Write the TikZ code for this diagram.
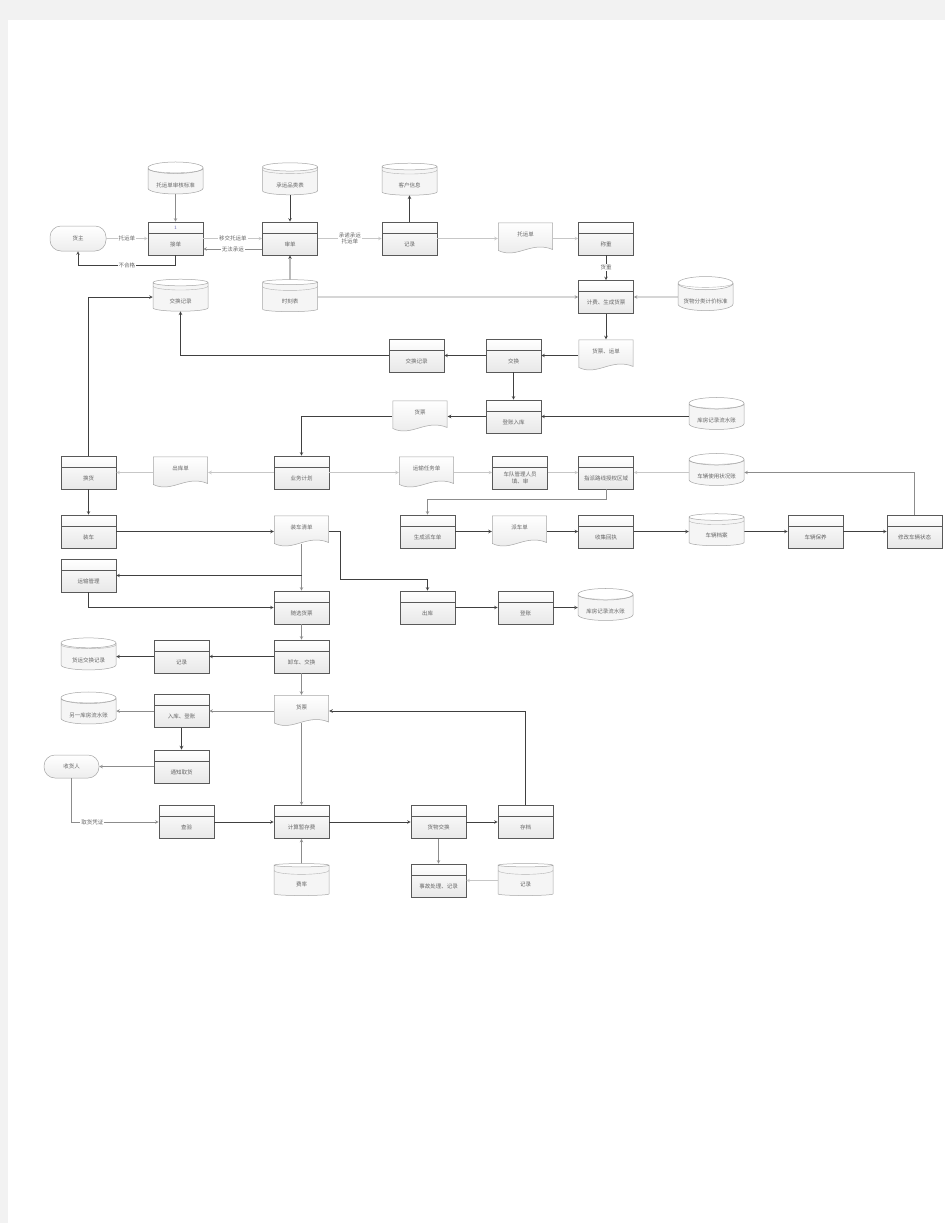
\documentclass[tikz,border=0pt]{standalone}
\usepackage{fontspec}
\newfontfamily\cjk{Noto Sans CJK SC}
\usetikzlibrary{shapes.geometric, arrows, positioning}
\tikzstyle{process} = [rectangle, minimum width=55pt, minimum height=33pt, inner sep=0pt, draw=black!65, line width=0.6pt, top color=white, bottom color=black!9, text height=16.4pt, text depth=1pt, path picture={\draw[black!65, line width=0.6pt] ([yshift=-11pt]path picture bounding box.north west) -- ([yshift=-11pt]path picture bounding box.north east);}]
\tikzstyle{docu} = [rectangle, minimum width=55pt, minimum height=32pt, inner sep=0pt, text height=5pt, text depth=8.6pt, path picture={\shade[top color=white, bottom color=black!9, draw=black!35, line width=0.5pt] ([shift={(0.3pt,-0.3pt)}]path picture bounding box.north west) -- ([shift={(-0.3pt,-0.3pt)}]path picture bounding box.north east) -- ([shift={(-0.3pt,5pt)}]path picture bounding box.south east) .. controls ([shift={(-22pt,14pt)}]path picture bounding box.south east) and ([shift={(19pt,-5pt)}]path picture bounding box.south west) .. ([shift={(0.3pt,4pt)}]path picture bounding box.south west) -- cycle;}]
\tikzstyle{store} = [cylinder, shape border rotate=90, shape aspect=0.3, minimum width=55pt, minimum height=32pt, inner sep=0pt, draw=black!35, line width=0.5pt, cylinder uses custom fill, cylinder body fill=black!4, cylinder end fill=white, text height=13pt, text depth=1pt, path picture={\draw[black!30, line width=0.4pt] ([yshift=-6.8pt]path picture bounding box.north west) arc[start angle=180, end angle=360, x radius=27.5pt, y radius=4pt];}]
\tikzstyle{terminal} = [rectangle, rounded corners=11pt, minimum width=56pt, minimum height=25pt, draw=black!35, line width=0.5pt, top color=white, bottom color=black!7]
\tikzstyle{arrow} = [->, >=stealth, draw=black!75, line width=0.6pt]
\tikzstyle{midarrow} = [->, >=stealth, draw=black!45, line width=0.6pt]
\tikzstyle{lightarrow} = [->, >=stealth, draw=black!22, line width=0.6pt]
\tikzstyle{lbl} = [fill=white, inner sep=1pt]
\begin{document}
\begin{tikzpicture}[x=1pt, y=-1pt, every node/.style={font=\cjk\fontsize{5.5}{6.6}\selectfont, text=black!60}]

\fill[black!5] (0,0) rectangle (945,1223);
\fill[white] (8,20) rectangle (945,1223);
\useasboundingbox (0,0) rectangle (945,1223);

% top rows
\node (shenhebz) [store] at (175.5,181) {托运单审核标准};
\node (pinlei) [store] at (290,181) {承运品类表};
\node (kehu) [store] at (409.5,181) {客户信息};
\node (huozhu) [terminal] at (78,238.5) {货主};
\node (jiedan) [process] at (175.5,238.5) {接单};
\node (jiedanno) [text=blue!50!black!60, font=\fontsize{5}{6}\selectfont] at (175.5,227.5) {1};
\node (shendan) [process] at (290,238.5) {审单};
\node (jilu) [process] at (409.5,238.5) {记录};
\node (tuoyundan) [docu] at (525.5,238.5) {托运单};
\node (chengzhong) [process] at (606,238.5) {称重};
\node (jiaohuanjl) [store] at (180.5,297) {交换记录};
\node (shike) [store] at (290,297) {时刻表};
\node (jifei) [process] at (606,297) {计费、生成货票};
\node (jijiabz) [store] at (705.5,297) {货物分类计价标准};
\node (jhjilu) [process] at (416.5,355.5) {交换记录};
\node (jiaohuan) [process] at (513.5,355.5) {交换};
\node (piaodan) [docu] at (606,355.5) {货票、运单};
\node (huopiao) [docu] at (420,416.5) {货票};
\node (ruku) [process] at (513.5,416.5) {登账入库};
\node (liushui) [store] at (716.5,416.5) {库房记录流水账};

% dispatch rows
\node (huanhuo) [process] at (88.5,472.5) {换货};
\node (chukudan) [docu] at (180.5,472.5) {出库单};
\node (yewu) [process] at (301.5,472.5) {业务计划};
\node (renwudan) [docu] at (426.5,472.5) {运输任务单};
\node (chedui) [process, align=center, text height=22pt] at (520,472.5) {车队管理人员\\填、审};
\node (zhipai) [process] at (606,472.5) {指派路线授权区域};
\node (zhuangkuang) [store] at (716.5,472.5) {车辆使用状况账};
\node (zhuangche) [process] at (88.5,531.5) {装车};
\node (qingdan) [docu] at (301.5,531.5) {装车清单};
\node (paiche) [process] at (427.5,531.5) {生成派车单};
\node (paichedan) [docu] at (519.5,531.5) {派车单};
\node (huizhi) [process] at (606,531.5) {收集回执};
\node (dangan) [store] at (716.5,531.5) {车辆档案};
\node (baoyang) [process] at (815.5,531.5) {车辆保养};
\node (xiugai) [process] at (914.5,531.5) {修改车辆状态};
\node (yunshu) [process] at (88.5,575.5) {运输管理};
\node (shaixuan) [process] at (301.5,607.5) {随选货票};
\node (chuku) [process] at (427.5,607.5) {出库};
\node (dengzhang) [process] at (525.5,607.5) {登账};
\node (liushuib) [store] at (605.5,607.5) {库房记录流水账};

% arrival rows
\node (huoyunjl) [store] at (88.5,656.5) {货运交换记录};
\node (jilub) [process] at (181.5,656.5) {记录};
\node (xieche) [process] at (301.5,656.5) {卸车、交换};
\node (lingyi) [store] at (88.5,711) {另一库房流水账};
\node (rukudz) [process] at (181.5,711) {入库、登账};
\node (huopiaob) [docu] at (301.5,711) {货票};
\node (shouhuoren) [terminal, minimum width=55pt, minimum height=23pt] at (71.5,766.5) {收货人};
\node (tongzhi) [process] at (181.5,766.5) {通知取货};
\node (chayan) [process] at (186.5,822) {查验};
\node (jisuan) [process] at (301.5,822) {计算暂存费};
\node (huowujh) [process] at (438.5,822) {货物交换};
\node (cundang) [process] at (525.5,822) {存档};
\node (feilv) [store] at (301.5,880.5) {费率};
\node (shigu) [process] at (438.5,880.5) {事故处理、记录};
\node (jiluc) [store] at (525.5,880.5) {记录};

\coordinate (fencha) at (qingdan.south |- yunshu.east);

\draw [lightarrow] (huozhu) -- node[lbl] {托运单} (jiedan);
\draw [lightarrow] (jiedan) -- node[lbl] {移交托运单} (shendan);
\draw [midarrow] ([yshift=-10.5pt]shendan.west) -- node[lbl] {无法承运} ([yshift=-10.5pt]jiedan.east);
\draw [arrow] (jiedan.south) -- ++(0,10) -| node[lbl, pos=0.25] {不合格} (huozhu.south);
\draw [midarrow] (shenhebz) -- (jiedan);
\draw [arrow] (pinlei) -- (shendan);
\draw [arrow] (shike) -- (shendan);
\draw [lightarrow] (shendan) -- node[lbl, align=center] {承诺承运\\托运单} (jilu);
\draw [arrow] (jilu) -- (kehu);
\draw [lightarrow] (jilu) -- (tuoyundan);
\draw [lightarrow] (tuoyundan) -- (chengzhong);
\draw [arrow] (chengzhong) -- node[lbl] {货重} (jifei);
\draw [midarrow] (shike) -- (jifei);
\draw [midarrow] (jijiabz) -- (jifei);
\draw [arrow] (jifei) -- (piaodan);
\draw [arrow] (piaodan) -- (jiaohuan);
\draw [arrow] (jiaohuan) -- (jhjilu);
\draw [arrow] (jhjilu.west) -| (jiaohuanjl.south);
\draw [arrow] (jiaohuan) -- (ruku);
\draw [arrow] (liushui) -- (ruku);
\draw [arrow] (ruku) -- (huopiao);
\draw [arrow] (huopiao.west) -| (yewu.north);

\draw [lightarrow] (yewu) -- (chukudan);
\draw [lightarrow] (chukudan) -- (huanhuo);
\draw [arrow] (huanhuo.north) |- (jiaohuanjl.west);
\draw [lightarrow] (yewu) -- (renwudan);
\draw [lightarrow] (renwudan) -- (chedui);
\draw [lightarrow] (chedui) -- (zhipai);
\draw [lightarrow] (zhuangkuang) -- (zhipai);
\draw [midarrow] (xiugai.north) |- (zhuangkuang.east);
\draw [midarrow] (zhipai.south) -- ++(0,10) -| (paiche.north);
\draw [arrow] (huanhuo) -- (zhuangche);
\draw [arrow] (zhuangche) -- (qingdan);
\draw [arrow] (paiche) -- (paichedan);
\draw [arrow] (paichedan) -- (huizhi);
\draw [arrow] (huizhi) -- (dangan);
\draw [arrow] (dangan) -- (baoyang);
\draw [arrow] (baoyang) -- (xiugai);
\draw [midarrow] ([yshift=4pt]qingdan.south) -- (shaixuan.north);
\draw [arrow] (fencha) -- (yunshu.east);
\draw [arrow] (qingdan.east) -- ++(11,0) -- ++(0,48) -| (chuku.north);
\draw [arrow] (yunshu.south) |- (shaixuan.west);
\draw [arrow] (chuku) -- (dengzhang);
\draw [arrow] (dengzhang) -- (liushuib);

\draw [midarrow] (shaixuan) -- (xieche);
\draw [arrow] (xieche) -- (jilub);
\draw [arrow] (jilub) -- (huoyunjl);
\draw [midarrow] (xieche) -- (huopiaob);
\draw [midarrow] (huopiaob) -- (rukudz);
\draw [midarrow] (rukudz) -- (lingyi);
\draw [arrow, line width=0.8pt] (rukudz) -- (tongzhi);
\draw [midarrow] (tongzhi) -- (shouhuoren);
\draw [midarrow] (shouhuoren.south) |- node[lbl, pos=0.62] {取货凭证} (chayan.west);
\draw [midarrow] ([yshift=4pt]huopiaob.south) -- (jisuan.north);
\draw [arrow] (chayan) -- (jisuan);
\draw [arrow] (jisuan) -- (huowujh);
\draw [arrow] (huowujh) -- (cundang);
\draw [arrow] (cundang.north) |- (huopiaob.east);
\draw [midarrow] (feilv) -- (jisuan);
\draw [midarrow] (huowujh) -- (shigu);
\draw [lightarrow] (jiluc) -- (shigu);

\end{tikzpicture}
\end{document}
